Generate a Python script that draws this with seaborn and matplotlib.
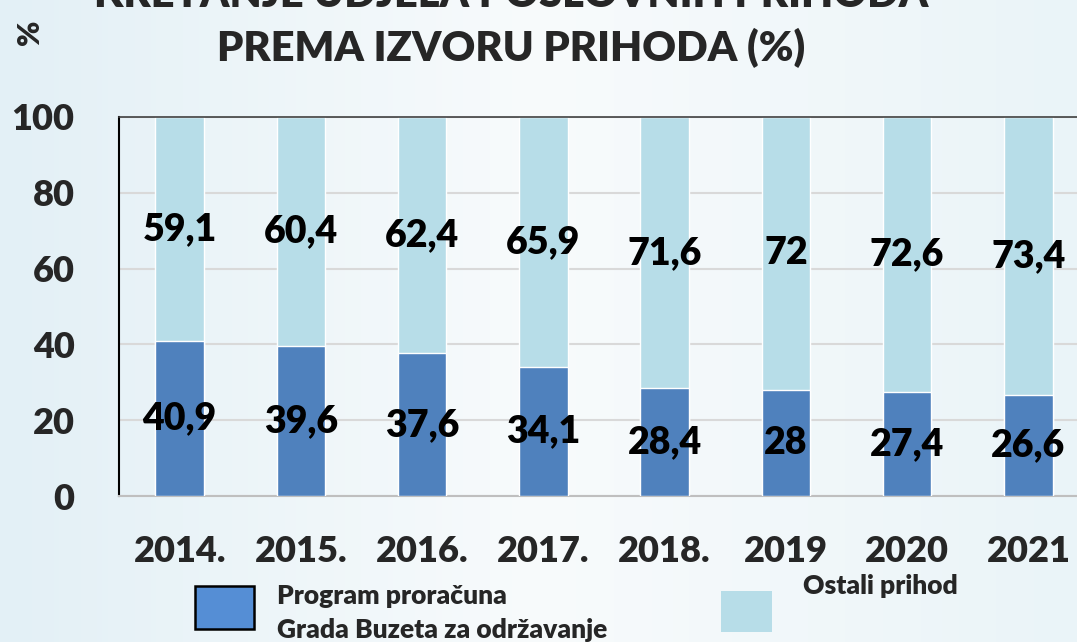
import numpy as np
import pandas as pd
import matplotlib.pyplot as plt
import seaborn as sns
from matplotlib.patches import Rectangle

# data
years = ["2014.", "2015.", "2016.", "2017.", "2018.", "2019", "2020", "2021"]
program = [40.9, 39.6, 37.6, 34.1, 28.4, 28, 27.4, 26.6]
ostali = [59.1, 60.4, 62.4, 65.9, 71.6, 72, 72.6, 73.4]
yticks = [0, 20, 40, 60, 80, 100]

dark = "#4f81bd"
light = "#b7dde8"
W = "heavy"

df = pd.DataFrame({"year": years, "program": program, "ostali": ostali})
df["total"] = df["program"] + df["ostali"]

sns.set_theme(style="white")
plt.rcParams["font.family"] = ["Lato", "DejaVu Sans"]
plt.rcParams["font.weight"] = "bold"

fig = plt.figure(figsize=(10.77, 6.42), dpi=100)

# soft gradient background
bg = fig.add_axes([0, 0, 1, 1], zorder=-10)
gx = np.linspace(0, 1, 200)
grad = np.tile(gx, (50, 1))
bg.imshow(grad, aspect="auto", cmap=sns.blend_palette(["#e3f0f6", "#f8fbfc", "#eaf4f8"], as_cmap=True),
          extent=[0, 1, 0, 1])
bg.set_axis_off()

ax = fig.add_axes([0.1105, 0.2274, 0.9007, 0.5904])
ax.set_facecolor((1, 1, 1, 0))

sns.barplot(data=df, x="year", y="total", color=light, width=0.4, saturation=1, ax=ax, zorder=2)
sns.barplot(data=df, x="year", y="program", color=dark, width=0.4, saturation=1, ax=ax, zorder=3)

for i, row in df.iterrows():
    ax.text(i, row["program"] / 2, f"{row['program']:g}".replace(".", ","),
            ha="center", va="center", fontsize=27, fontweight=W, color="black", zorder=5)
    ax.text(i, row["program"] + row["ostali"] / 2, f"{row['ostali']:g}".replace(".", ","),
            ha="center", va="center", fontsize=27, fontweight=W, color="black", zorder=5)

ax.set_ylim(0, 100)
ax.set_xlim(-0.5, len(years) - 0.5)
ax.set_yticks(yticks)
ax.yaxis.grid(True, color="#d9d9d9", linewidth=1.5, zorder=0)
ax.set_axisbelow(True)
ax.set_xlabel("")
ax.set_ylabel("")
ax.tick_params(axis="y", labelsize=26, pad=32, length=0)
ax.tick_params(axis="x", labelsize=26, pad=28, length=0)
for lab in ax.get_xticklabels() + ax.get_yticklabels():
    lab.set_fontweight(W)

ax.spines["left"].set_color("black")
ax.spines["left"].set_linewidth(1.5)
ax.spines["bottom"].set_color("#bfbfbf")
ax.spines["bottom"].set_linewidth(1.5)
ax.spines["top"].set_color("#404040")
ax.spines["top"].set_linewidth(1.2)
ax.spines["right"].set_visible(False)

# titles (first line is cut by the top edge, as in the original)
fig.text(0.475, 1.008, "KRETANJE UDJELA POSLOVNIH PRIHODA", ha="center", va="center",
         fontsize=30, fontweight=W)
fig.text(0.475, 1 - 48 / 642, "PREMA IZVORU PRIHODA (%)", ha="center", va="center",
         fontsize=30, fontweight=W)
fig.text(30 / 1077, 1 - 32 / 642, "%", ha="center", va="center", rotation=90, fontsize=22, fontweight=W)

# legend
fig.add_artist(Rectangle((195 / 1077, 1 - 629 / 642), 59 / 1077, 43 / 642,
                         facecolor="#558ed5", edgecolor="black", linewidth=1.8,
                         transform=fig.transFigure))
fig.text(277 / 1077, 1 - 596 / 642, "Program proračuna", ha="left", va="center", fontsize=19, fontweight=W)
fig.text(277 / 1077, 1 - 630 / 642, "Grada Buzeta za održavanje", ha="left", va="center", fontsize=19, fontweight=W)
fig.add_artist(Rectangle((721 / 1077, 1 - 632 / 642), 51 / 1077, 41 / 642,
                         facecolor=light, edgecolor="none", transform=fig.transFigure))
fig.text(803 / 1077, 1 - 586 / 642, "Ostali prihod", ha="left", va="center", fontsize=19, fontweight=W)

fig.savefig("out.png", dpi=100)
